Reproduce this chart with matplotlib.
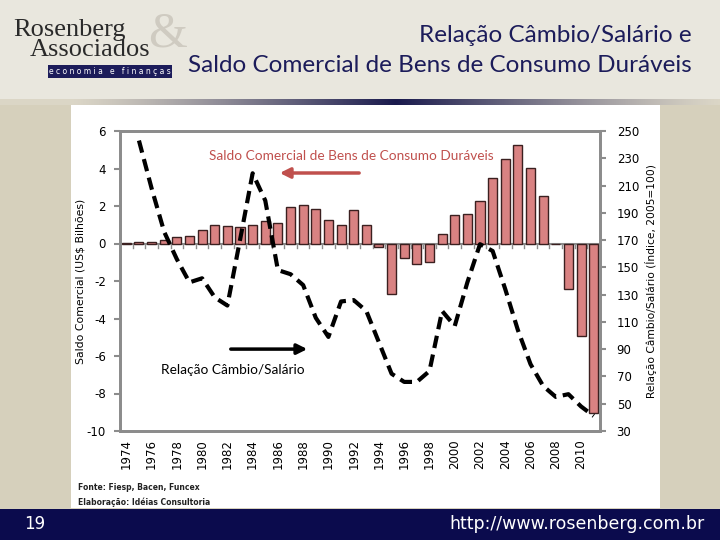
import numpy as np
import matplotlib
matplotlib.use("Agg")
import matplotlib.pyplot as plt
from matplotlib.patches import Rectangle

# ---------------- data ----------------
years = list(range(1974, 2012))
saldo = [0.05, 0.07, 0.1, 0.2, 0.37, 0.4, 0.7, 1.0, 0.95, 0.9, 1.0, 1.22, 1.07,
         1.97, 2.06, 1.85, 1.28, 1.01, 1.8, 0.99, -0.2, -2.7, -0.79, -1.09,
         -1.0, 0.5, 1.5, 1.55, 2.25, 3.48, 4.5, 5.25, 4.04, 2.52, -0.05,
         -2.4, -4.93, -9.02]
line_years = list(range(1975, 2012))
cambio_salario = [243, 208, 176, 156, 139, 142, 128, 122, 170, 219, 199, 148,
                  145, 137, 113, 99, 125, 126, 118, 95, 72, 66, 66, 74, 118,
                  107, 139, 167, 162, 134, 104, 79, 63, 55, 57, 48, 41]
left_ticks = [6, 4, 2, 0, -2, -4, -6, -8, -10]
right_ticks = [250, 230, 210, 190, 170, 150, 130, 110, 90, 70, 50, 30]
xtick_years = list(range(1974, 2011, 2))

W, H = 720, 540
fig = plt.figure(figsize=(7.2, 5.4), dpi=100)
fig.patch.set_facecolor("#d6d0bc")

def fr(x0, y0, x1, y1, color, z=0):
    fig.patches.append(Rectangle((x0 / W, 1 - y1 / H), (x1 - x0) / W, (y1 - y0) / H,
                                 transform=fig.transFigure, facecolor=color,
                                 edgecolor="none", zorder=z))

# header
fr(0, 0, 720, 99, "#e9e7de")
gax = fig.add_axes([0, 1 - 105 / H, 1, 6 / H])
g = np.linspace(0, 1, 400)
prof = np.clip(1 - np.abs(g - 0.55) / 0.45, 0, 1) ** 1.2
c0 = np.array([0.86, 0.84, 0.78]); c1 = np.array([0.10, 0.10, 0.30])
img = (c0[None, :] * (1 - prof[:, None]) + c1[None, :] * prof[:, None])[None, :, :]
gax.imshow(img, aspect="auto", extent=[0, 1, 0, 1])
gax.axis("off")
fr(71, 105, 660, 508, "white")
fr(0, 509, 720, 540, "#0b0b4d")

# title
tfont = "Lato"
fig.text(692 / W, 1 - 35 / H, "Relação Câmbio/Salário e", ha="right", va="center",
         fontsize=17.5, color="#1c1c5a", family=tfont)
fig.text(692 / W, 1 - 66 / H, "Saldo Comercial de Bens de Consumo Duráveis", ha="right",
         va="center", fontsize=17.5, color="#1c1c5a", family=tfont)

# logo
fig.text(168 / W, 1 - 34 / H, "&", ha="center", va="center", fontsize=36,
         color="#cfcbc1", family="Liberation Serif", zorder=0)
fig.text(13 / W, 1 - 30 / H, "Rosenberg", ha="left", va="center", fontsize=19,
         color="#2a2a2a", family="Liberation Serif", zorder=2)
fig.text(30 / W, 1 - 50 / H, "Associados", ha="left", va="center", fontsize=19,
         color="#2a2a2a", family="Liberation Serif", zorder=2)
fr(48, 65, 172, 78, "#1c1c5a", z=1)
fig.text(110 / W, 1 - 71.5 / H, "e c o n o m i a   e   f i n a n ç a s", ha="center",
         va="center", fontsize=5.5, color="white", family="DejaVu Sans", zorder=3)

# footer text
fig.text(35 / W, 1 - 524 / H, "19", ha="center", va="center", fontsize=12,
         color="white", family="DejaVu Sans")
fig.text(705 / W, 1 - 524 / H, "http://www.rosenberg.com.br", ha="right", va="center",
         fontsize=12.5, color="white", family="DejaVu Sans")

# ---------------- chart ----------------
ax = fig.add_axes([120 / W, 1 - 431 / H, 480 / W, 300 / H])
ax.set_facecolor("white")
ax.set_zorder(2)
x = np.arange(len(years))
ax.bar(x, saldo, width=0.72, color="#d98282", edgecolor="#3b2020", linewidth=1.0,
       zorder=3)
ax.set_xlim(-0.5, len(years) - 0.5)
ax.set_ylim(-10, 6)
ax.axhline(0, color="#8c8c8c", lw=1.5, zorder=2)
for b in np.arange(len(years) + 1) - 0.5:
    ax.plot([b, b], [0, -0.22], color="#8c8c8c", lw=1, zorder=2)
ax.set_yticks(left_ticks)
ax.set_yticklabels([str(v) for v in left_ticks], fontsize=8.5, family="DejaVu Sans")
xt = [years.index(y) for y in xtick_years]
ax.set_xticks(xt)
ax.set_xticklabels([str(y) for y in xtick_years], rotation=90, fontsize=8.5,
                   family="DejaVu Sans")
ax.tick_params(axis="x", length=0, pad=6)
ax.tick_params(axis="y", length=4, color="#8c8c8c", width=1.5, pad=6)
for s in ax.spines.values():
    s.set_color("#8c8c8c")
    s.set_linewidth(2)
ax.set_ylabel("Saldo Comercial (US$ Bilhões)", fontsize=7.8, family="DejaVu Sans",
              labelpad=1)

ax2 = ax.twinx()
lx = [years.index(y) for y in line_years]
ax2.plot(lx, cambio_salario, color="black", lw=3, linestyle=(0, (3, 1.6)), zorder=4)
ax2.set_ylim(30, 250)
ax2.set_yticks(right_ticks)
ax2.set_yticklabels([str(v) for v in right_ticks], fontsize=8.5, family="DejaVu Sans")
ax2.tick_params(axis="y", length=4, color="#8c8c8c", width=1.5, pad=8)
for s in ax2.spines.values():
    s.set_color("#8c8c8c")
    s.set_linewidth(2)
ax2.set_ylabel("Relação Câmbio/Salário (Índice, 2005=100)", fontsize=7.7,
               family="DejaVu Sans", labelpad=4)

# annotations
ax.text(0.481, 0.917, "Saldo Comercial de Bens de Consumo Duráveis",
        transform=ax.transAxes, ha="center", va="center", fontsize=9.8,
        color="#c0504d", family="Lato", zorder=6)
ax.annotate("", xy=(0.327, 0.86), xytext=(0.504, 0.86), xycoords="axes fraction",
            arrowprops=dict(arrowstyle="-|>,head_length=0.6,head_width=0.3",
                            color="#c0504d", lw=2.5), zorder=6)
ax.text(0.235, 0.203, "Relação Câmbio/Salário", transform=ax.transAxes,
        ha="center", va="center", fontsize=9.8, color="black", family="Lato", zorder=6)
ax.annotate("", xy=(0.396, 0.273), xytext=(0.225, 0.273), xycoords="axes fraction",
            arrowprops=dict(arrowstyle="-|>,head_length=0.6,head_width=0.3",
                            color="black", lw=2.5), zorder=6)

# source
fig.text(78 / W, 1 - 488 / H, "Fonte: Fiesp, Bacen, Funcex", ha="left", va="center",
         fontsize=5.5, color="#222222", family="DejaVu Sans", weight="bold")
fig.text(78 / W, 1 - 502 / H, "Elaboração: Idéias Consultoria", ha="left",
         va="center", fontsize=5.5, color="#222222", family="DejaVu Sans",
         weight="bold")

fig.savefig("out.png", dpi=100)
